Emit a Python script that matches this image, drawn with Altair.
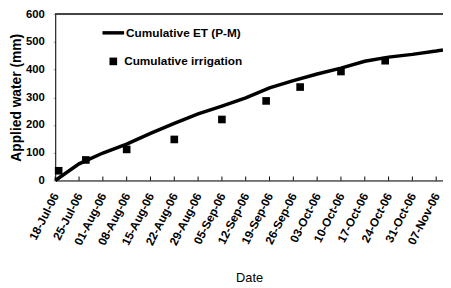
import altair as alt
import pandas as pd

tick_dates = ["2006-07-18", "2006-07-25", "2006-08-01", "2006-08-08", "2006-08-15",
              "2006-08-22", "2006-08-29", "2006-09-05", "2006-09-12", "2006-09-19",
              "2006-09-26", "2006-10-03", "2006-10-10", "2006-10-17", "2006-10-24",
              "2006-10-31", "2006-11-07"]
et_dates = tick_dates + ["2006-11-09"]
et_values = [0, 60, 99, 131, 170, 206, 240, 268, 298, 334, 360, 384, 405, 430, 445, 455, 467, 471]
irr_dates = ["2006-07-19", "2006-07-27", "2006-08-08", "2006-08-22", "2006-09-05",
             "2006-09-18", "2006-09-28", "2006-10-10", "2006-10-23"]
irr_values = [35, 74, 112, 148, 220, 287, 337, 393, 432]
y_ticks = [0, 100, 200, 300, 400, 500, 600]

FONT = "Liberation Sans"
W, H = 394, 169

et_df = pd.DataFrame({"date": et_dates, "water": et_values, "series": "Cumulative ET (P-M)"})
irr_df = pd.DataFrame({"date": irr_dates, "water": irr_values, "series": "Cumulative irrigation"})
tick_df = pd.DataFrame({"date": tick_dates})

MONTHS = ["Jan", "Feb", "Mar", "Apr", "May", "Jun", "Jul", "Aug", "Sep", "Oct", "Nov", "Dec"]


def dt(s):
    y, m, d = s.split("-")
    return alt.DateTime(year=int(y), month=MONTHS[int(m) - 1], date=int(d), utc=True)


x_scale = alt.Scale(type="utc", domain=[dt("2006-07-18"), dt("2006-11-09")])
y_scale = alt.Scale(domain=[0, 600])

x_axis = alt.Axis(values=[dt(d) for d in tick_dates], format="%d-%b-%y",
                  labelAngle=-63, labelFont=FONT, labelFontSize=12,
                  labelFontWeight="bold", labelColor="black", labelPadding=13,
                  labelOverlap=False, labelFlush=False,
                  tickSize=0, grid=False, domainColor="black",
                  title="Date", titleFont=FONT, titleFontSize=13,
                  titleFontWeight="normal", titleColor="black", titlePadding=25)
y_axis = alt.Axis(values=y_ticks, labelFont=FONT, labelFontSize=11.5,
                  labelFontWeight="bold", labelColor="black", labelPadding=9,
                  labelOverlap=False, labelFlush=False,
                  tickSize=2, tickColor="#999999", grid=False, domainColor="black",
                  title="Applied water (mm)", titleFont=FONT, titleFontSize=14,
                  titleFontWeight="bold", titleColor="black", titlePadding=2)

x_enc = alt.X("date:T", scale=x_scale, axis=x_axis)
y_enc = alt.Y("water:Q", scale=y_scale, axis=y_axis)

line = alt.Chart(et_df).mark_line(strokeWidth=3.5).encode(
    x=x_enc, y=y_enc,
    color=alt.Color("series:N",
                    scale=alt.Scale(domain=["Cumulative ET (P-M)"], range=["black"]),
                    legend=alt.Legend(orient="none", legendX=46, legendY=6, title=None,
                                      symbolType="stroke", symbolSize=484,
                                      symbolStrokeWidth=3.5, symbolStrokeColor="black",
                                      labelFont=FONT, labelFontSize=12,
                                      labelFontWeight="bold", labelColor="black",
                                      labelOffset=0, padding=0)),
)

points = alt.Chart(irr_df).mark_point(filled=True, opacity=1, color="black").encode(
    x=x_enc, y=y_enc,
    shape=alt.Shape("series:N",
                    scale=alt.Scale(domain=["Cumulative irrigation"], range=["square"]),
                    legend=alt.Legend(orient="none", legendX=53, legendY=42, title=None,
                                      symbolSize=60, symbolFillColor="black",
                                      symbolStrokeColor="black", symbolOpacity=1,
                                      labelFont=FONT, labelFontSize=12,
                                      labelFontWeight="bold", labelColor="black",
                                      labelOffset=5, padding=0)),
    size=alt.value(60),
)

ticks = alt.Chart(tick_df).mark_rule(color="black", strokeWidth=1).encode(
    x=x_enc, y=alt.value(H), y2=alt.value(H - 4))

top_border = alt.Chart(tick_df).mark_rule(color="#444444", strokeWidth=1.5).encode(
    x=alt.value(0), x2=alt.value(W), y=alt.value(0))

chart = alt.layer(top_border, ticks, line, points).resolve_legend(
    color="independent", shape="independent"
).properties(
    width=W, height=H, autosize="none",
    padding={"left": 48, "top": 4, "right": 0, "bottom": 106},
).configure_view(stroke=None).configure_axis(
    labelOverlap=False
).configure(background="white")

chart.save("out.html", embed_options={"renderer": "svg", "actions": False})
